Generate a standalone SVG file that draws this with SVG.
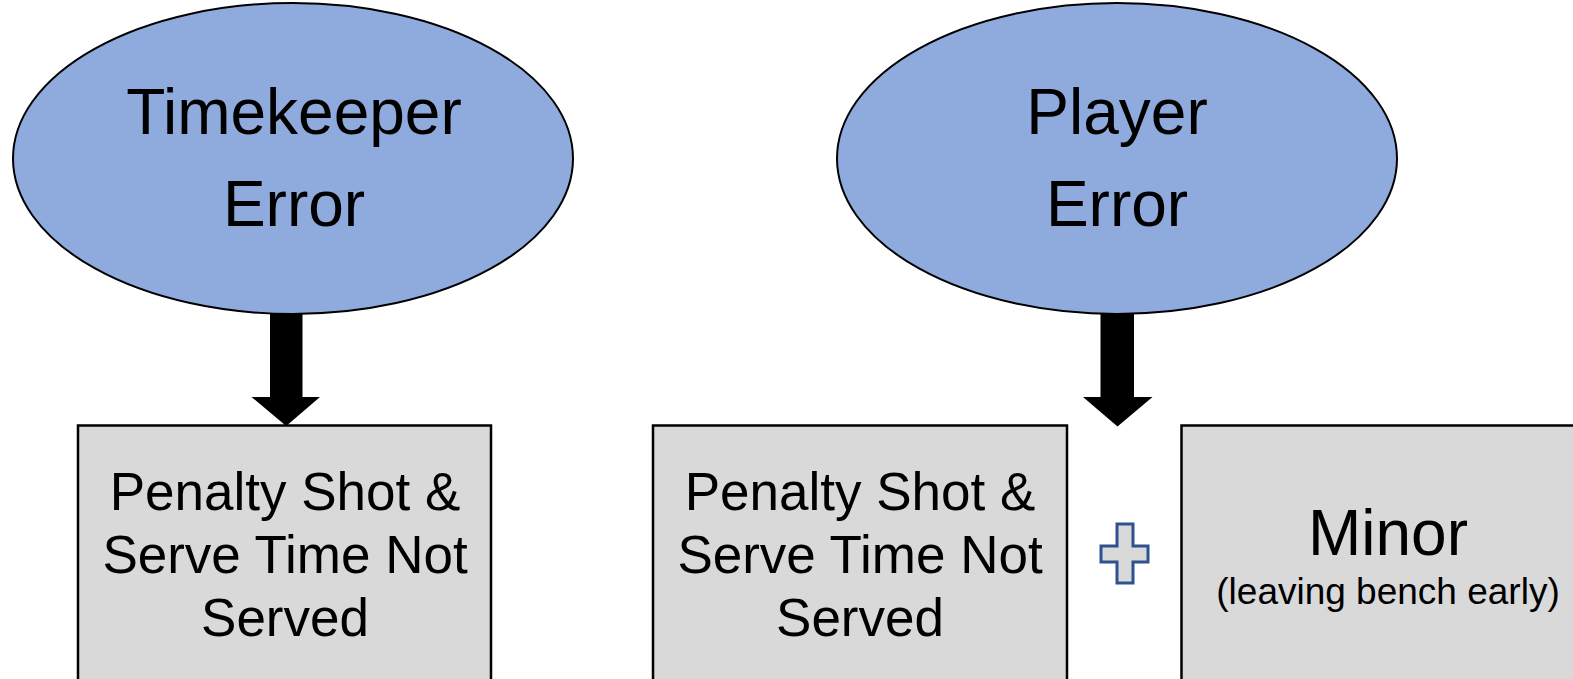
<svg xmlns="http://www.w3.org/2000/svg" width="1573" height="679" viewBox="0 0 1573 679">
  <style>
    .oval { fill: #8FAADC; stroke: #000; stroke-width: 2; }
    .box { fill: #D9D9D9; stroke: #000; stroke-width: 2.5; }
    .arrow { fill: #000; }
    .plus { fill: #D9D9D9; stroke: #2F528F; stroke-width: 3; }
    text { font-family: "Liberation Sans", Arial, sans-serif; fill: #000; text-anchor: middle; }
    .big { font-size: 64px; }
    .mid { font-size: 53px; }
    .small { font-size: 37px; }
  </style>

  <rect width="1573" height="679" fill="#fff"/>

  <g id="timekeeper-error">
    <ellipse class="oval" cx="293" cy="158.5" rx="280" ry="155.5"/>
    <text class="big" x="294" y="133.5">Timekeeper</text>
    <text class="big" x="294" y="226">Error</text>
  </g>

  <g id="player-error">
    <ellipse class="oval" cx="1117" cy="158.5" rx="280" ry="155.5"/>
    <text class="big" x="1117" y="133.5">Player</text>
    <text class="big" x="1117" y="226">Error</text>
  </g>

  <g id="connectors">
    <path class="arrow" d="M270,314 H302.5 V397 H320 L286.2,426 L251.5,397 H270 Z"/>
    <path class="arrow" d="M1100.5,314 H1134 V397 H1152.5 L1117.5,426.5 L1083,397 H1100.5 Z"/>
  </g>

  <g id="timekeeper-outcome">
    <rect class="box" x="78" y="425.5" width="413" height="270"/>
    <text class="mid" x="285" y="510">Penalty Shot &amp;</text>
    <text class="mid" x="285" y="573">Serve Time Not</text>
    <text class="mid" x="285" y="636">Served</text>
  </g>

  <g id="player-outcome">
    <rect class="box" x="653" y="425.5" width="414" height="270"/>
    <text class="mid" x="860" y="510">Penalty Shot &amp;</text>
    <text class="mid" x="860" y="573">Serve Time Not</text>
    <text class="mid" x="860" y="636">Served</text>
  </g>

  <g id="plus">
    <path class="plus" d="M1117,524 H1133 V546 H1148 V562 H1133 V583 H1117 V562 H1101 V546 H1117 Z"/>
  </g>

  <!-- box runs on past the right edge of the canvas -->
  <g id="minor-penalty">
    <rect class="box" x="1181.5" y="425.5" width="414" height="270"/>
    <text class="big" x="1388" y="555">Minor</text>
    <text class="small" x="1388" y="604">(leaving bench early)</text>
  </g>
</svg>
